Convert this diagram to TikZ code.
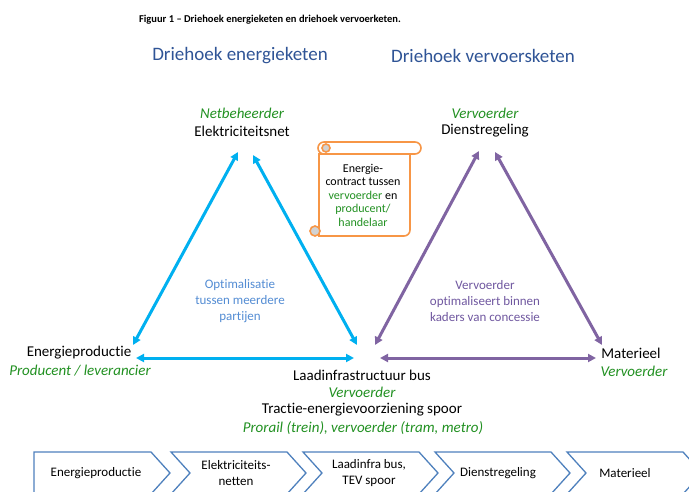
\documentclass[tikz,border=0pt]{standalone}
\usepackage{fontspec}
\setmainfont{Carlito}[Ligatures={NoCommon}]
\usetikzlibrary{arrows.meta}
\definecolor{grn}{RGB}{34,145,34}
\definecolor{headblue}{RGB}{47,84,150}
\definecolor{cyanarrow}{RGB}{0,176,240}
\definecolor{purparrow}{RGB}{128,100,162}
\definecolor{midblue}{RGB}{84,141,212}
\definecolor{midpurp}{RGB}{112,88,160}
\definecolor{scrollorange}{RGB}{247,150,70}
\definecolor{curlgray}{RGB}{210,210,210}
\definecolor{chevblue}{RGB}{79,129,189}
\tikzset{
  lbl/.style={font=\fontsize{15}{18}\selectfont, inner sep=0pt, anchor=center},
  role/.style={lbl, text=grn, font=\fontsize{15}{18}\selectfont\itshape},
  head/.style={font=\fontsize{19}{22}\selectfont, text=headblue, inner sep=0pt},
  figtitle/.style={font=\fontsize{10.5}{12}\selectfont\bfseries, inner sep=0pt},
  midtext/.style={font=\fontsize{13}{16}\selectfont, inner sep=0pt, align=center},
  scrolltext/.style={font=\fontsize{12}{13.5}\selectfont, inner sep=0pt, align=center},
  chevtext/.style={font=\fontsize{13}{16}\selectfont, inner sep=0pt, align=center},
  chev/.style={draw=chevblue, line width=1.3pt, fill=white, line join=miter},
  barrow/.style={draw=cyanarrow, line width=3pt, {Triangle[length=8pt,width=8pt]}-{Triangle[length=8pt,width=8pt]}},
  parrow/.style={draw=purparrow, line width=3pt, {Triangle[length=8pt,width=8pt]}-{Triangle[length=8pt,width=8pt]}},
  scrollline/.style={draw=scrollorange, line width=1.6pt},
}
\begin{document}
\begin{tikzpicture}[x=1pt,y=-1pt]
\useasboundingbox (0,0) rectangle (689,492);
\fill[white] (0,0) rectangle (689,492);

% titles
\node[figtitle] (fig) at (270,20) {Figuur 1 – Driehoek energieketen en driehoek vervoerketen.};
\node[head] (h1) at (240,56) {Driehoek energieketen};
\node[head] (h2) at (483,56) {Driehoek vervoersketen};

% left triangle labels
\node[role] (netb) at (242,113) {Netbeheerder};
\node[lbl] (elek) at (242,131) {Elektriciteitsnet};
\node[lbl] (eprod) at (79,353) {Energieproductie};
\node[role] (prod) at (80,371) {Producent / leverancier};
\node[lbl] (laad) at (362,375) {Laadinfrastructuur bus};
\node[role] (vv1) at (362,392) {Vervoerder};
\node[lbl] (tract) at (362,410) {Tractie-energievoorziening spoor};
\node[role] (pror) at (363,428) {Prorail (trein), vervoerder (tram, metro)};

% right triangle labels
\node[role] (vv2) at (485,113) {Vervoerder};
\node[lbl] (dienst) at (485,131) {Dienstregeling};
\node[lbl] (mat) at (631,353) {Materieel};
\node[role] (vv3) at (634,371) {Vervoerder};

% middle texts
\node[midtext, text=midblue] (opt) at (240,301) {Optimalisatie\\tussen meerdere\\partijen};
\node[midtext, text=midpurp] (vopt) at (485,301) {Vervoerder\\optimaliseert binnen\\kaders van concessie};

% arrow end points
\coordinate (bT1) at (238,152);
\coordinate (bL1) at (133,345);
\coordinate (bT2) at (253,155);
\coordinate (bR1) at (357,345);
\coordinate (bH1) at (136,358);
\coordinate (bH2) at (354,358);
\coordinate (pT1) at (479,151);
\coordinate (pL1) at (375,345);
\coordinate (pT2) at (495,152);
\coordinate (pR1) at (602,345);
\coordinate (pH1) at (380,358);
\coordinate (pH2) at (596,358);

\draw[barrow] (bL1) -- (bT1);
\draw[barrow] (bR1) -- (bT2);
\draw[barrow] (bH1) -- (bH2);
\draw[parrow] (pL1) -- (pT1);
\draw[parrow] (pR1) -- (pT2);
\draw[parrow] (pH1) -- (pH2);

% scroll
\path[scrollline, fill=white] (319,154) -- (319,236) -- (404,236) arc[start angle=90, end angle=0, radius=6] -- (410,154) -- cycle;
\path[scrollline, fill=white, rounded corners=6pt] (318,142) rectangle (421,154);
\path[scrollline, fill=curlgray] (326,148) circle[radius=4];
\path[scrollline, fill=curlgray] (315,231) circle[radius=5];
\node[scrolltext] (scroll) at (363,195) {Energie-\\contract tussen\\\textcolor{grn}{vervoerder} en\\\textcolor{grn}{producent/}\\\textcolor{grn}{handelaar}};

% chevrons
\draw[chev] (34,452) -- (151,452) -- (170,473) -- (151,494) -- (34,494) -- cycle;
\foreach \xl in {171,303,435,567}{
  \draw[chev] (\xl,452) -- (\xl+116,452) -- (\xl+135,473) -- (\xl+116,494) -- (\xl,494) -- (\xl+19,473) -- cycle;
}
\node[chevtext] (c1) at (96,473) {Energieproductie};
\node[chevtext] (c2) at (236,473) {Elektriciteits-\\netten};
\node[chevtext] (c3) at (369,473) {Laadinfra bus,\\TEV spoor};
\node[chevtext] (c4) at (498,473) {Dienstregeling};
\node[chevtext] (c5) at (625,473) {Materieel};
\end{tikzpicture}
\end{document}
